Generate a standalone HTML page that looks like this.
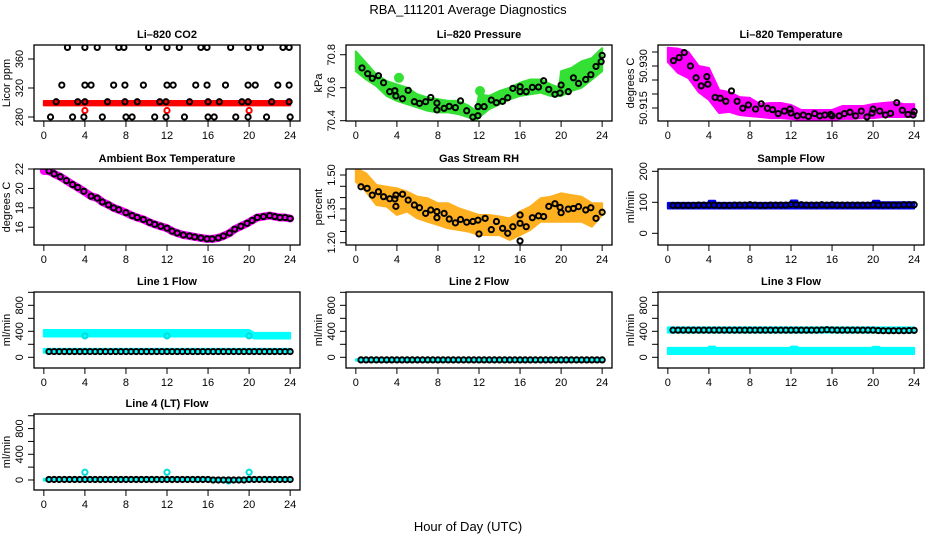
<!DOCTYPE html>
<html><head><meta charset="utf-8"><style>
body{margin:0;background:#fff}
svg{display:block;font-family:"Liberation Sans",sans-serif}
</style></head><body>
<svg id="chart" width="936" height="540" viewBox="0 0 936 540">
<rect width="936" height="540" fill="#fff"/>
<text x="468" y="14" font-size="13" text-anchor="middle">RBA_111201  Average Diagnostics</text>
<text x="468" y="531" font-size="13" text-anchor="middle">Hour of Day (UTC)</text>
</svg>
<script>
// ---------- data ----------
const xTicks = [0,4,8,12,16,20,24];
const halfHours = [0.5,1,1.5,2,2.5,3,3.5,4,4.5,5,5.5,6,6.5,7,7.5,8,8.5,9,9.5,10,10.5,11,11.5,12,12.5,13,13.5,14,14.5,15,15.5,16,16.5,17,17.5,18,18.5,19,19.5,20,20.5,21,21.5,22,22.5,23,23.5,24];

// CO2
const co2H = [2.3,4.0,5.2,7.3,7.8,10.2,12.0,13.2,15.3,15.9,18.2,19.9,21.1,23.3,23.9, 1.75,4.0,4.6,6.8,7.9,9.7,12.0,12.6,14.8,15.9,17.7,19.9,20.6,22.8,23.9, 1.2,3.3,4.0,6.2,7.9,9.1,11.3,11.9,14.2,16.0,17.1,19.3,19.9,22.2,23.9, 0.65,2.8,3.9,5.7,8.0,8.6,10.8,11.9,13.7,16.0,16.6,18.7,19.9,21.7,24.0];
const co2V = [376,376,376,376,376,376,376,376,376,376,376,376,376,376,376, 324,324,324,324,324,324,324,324,324,324,324,324,324,324,324, 301,301,301,301,301,301,301,301,301,301,301,301,301,301,301, 280,280,280,280,280,280,280,280,280,280,280,280,280,280,280];
const co2RedBandH = [0,24];
const co2RedLo = [296,296];
const co2RedHi = [302,302];
const co2RedPtH = [4,12,20];
const co2RedPtV = [289,289,289];

// Pressure
const presH = [0.6,1.15,1.6,2.2,2.7,3.3,3.8,3.9,4.55,5.1,5.7,6.2,6.8,7.3,7.9,7.9,8.6,9.1,9.7,10.2,10.8,11.4,11.9,11.9,12.5,13.2,13.7,14.3,14.8,15.3,16.0,16.0,16.6,17.2,17.8,18.3,18.8,19.4,19.9,20.0,20.7,21.2,21.7,22.4,22.9,23.4,23.9,24.0];
const presV = [70.72,70.685,70.657,70.673,70.63,70.576,70.582,70.55,70.533,70.584,70.515,70.505,70.515,70.541,70.507,70.465,70.475,70.487,70.479,70.52,70.46,70.422,70.43,70.485,70.485,70.525,70.509,70.517,70.539,70.596,70.606,70.576,70.576,70.602,70.604,70.642,70.59,70.56,70.568,70.616,70.576,70.66,70.626,70.65,70.679,70.729,70.758,70.796];
const presBandH = [0,1,2,3,4,5,6,7,8,9,10,11,11.7,12,13,14,15,16,17,18,19,19.8,20,21,22,23,24];
const presLo = [70.70,70.65,70.61,70.55,70.52,70.50,70.48,70.46,70.45,70.45,70.44,70.42,70.40,70.42,70.47,70.50,70.53,70.55,70.56,70.57,70.55,70.55,70.55,70.58,70.60,70.65,70.70];
const presHi = [70.82,70.75,70.68,70.64,70.62,70.60,70.56,70.54,70.53,70.52,70.52,70.49,70.46,70.56,70.55,70.58,70.60,70.63,70.65,70.65,70.62,70.60,70.70,70.72,70.76,70.78,70.84];
const presBlobH = [4.2,12.1];
const presBlobV = [70.66,70.58];

// Li-820 temperature
const tempH = [0.55,1.1,1.6,2.2,2.75,3.25,3.8,3.9,4.6,5.1,5.65,6.2,6.75,7.3,7.85,8.55,9.1,9.7,10.2,10.75,11.35,11.9,12.0,12.6,13.2,13.7,14.3,14.8,15.3,15.85,16.0,16.7,17.2,17.75,18.3,18.85,19.4,19.9,20.0,20.65,21.2,21.7,22.3,22.85,23.4,23.9,24.0];
const tempV = [50.9319,50.933,50.9348,50.930,50.9258,50.9229,50.9262,50.9235,50.9188,50.9185,50.9174,50.9211,50.9174,50.9149,50.9161,50.9146,50.9165,50.9149,50.9144,50.913,50.9139,50.9146,50.9132,50.9122,50.9125,50.912,50.913,50.9122,50.9125,50.9127,50.9122,50.9122,50.913,50.9135,50.9122,50.9139,50.9118,50.9132,50.9146,50.9139,50.9125,50.9131,50.9169,50.9142,50.9127,50.9125,50.9137];
const tempBandH = [0,1,2,3,4,5,6,7,8,9,10,11,12,13,14,15,16,17,18,19,20,21,22,23,24];
const tempLo = [50.9314,50.9275,50.9257,50.9207,50.9179,50.9132,50.9136,50.9125,50.9121,50.9118,50.9114,50.9114,50.9111,50.9107,50.9107,50.9104,50.9107,50.9111,50.9111,50.9114,50.9114,50.9118,50.9118,50.9118,50.9118];
const tempHi = [50.9365,50.9362,50.935,50.930,50.9293,50.9214,50.9207,50.9189,50.9186,50.9164,50.9168,50.9168,50.9161,50.9143,50.9143,50.9143,50.9143,50.9157,50.9157,50.9157,50.9164,50.9168,50.9171,50.9164,50.9164];

// Ambient box temperature
const ambH = [0,0.5,1,1.6,2.2,2.8,3.3,3.9,4.6,5.2,5.7,6.3,6.8,7.3,8,8.6,9.1,9.7,10.3,10.8,11.4,12,12.5,13,13.6,14.2,14.7,15.3,15.9,16.4,17,17.5,18.1,18.6,19.2,19.8,20.3,20.8,21.4,22,22.5,23,23.5,24];
const ambV = [21.8,21.8,21.5,21.2,20.8,20.4,20.1,19.7,19.2,19.0,18.6,18.3,18.0,17.8,17.5,17.2,17.0,16.8,16.5,16.3,16.1,15.9,15.6,15.4,15.2,15.1,15.0,14.9,14.8,14.8,14.9,15.1,15.4,15.8,16.1,16.4,16.7,17.0,17.1,17.2,17.1,17.0,17.0,16.9];

// Gas stream RH
const rhH = [0.5,1.1,1.6,2.2,2.7,3.3,3.8,3.9,3.9,4.55,5.1,5.7,6.2,6.8,7.3,7.9,7.9,8.6,9.1,9.7,10.2,10.8,11.4,11.9,12.0,12.6,13.2,13.7,14.3,14.8,15.3,16.0,16.0,16.0,16.6,17.2,17.8,18.3,18.8,19.4,19.9,20.0,20.7,21.2,21.7,22.4,22.9,23.4,24.0];
const rhV = [1.448,1.441,1.411,1.426,1.404,1.395,1.394,1.361,1.411,1.415,1.389,1.367,1.355,1.330,1.345,1.338,1.311,1.330,1.305,1.288,1.303,1.291,1.294,1.300,1.239,1.308,1.258,1.294,1.264,1.242,1.271,1.323,1.286,1.208,1.271,1.311,1.319,1.316,1.361,1.373,1.357,1.333,1.349,1.352,1.360,1.345,1.355,1.308,1.335];
const rhBandH = [0,1,2,3,4,5,6,7,8,9,10,11,12,13,14,15,16,17,18,19,20,21,22,23,24];
const rhLo = [1.470,1.426,1.367,1.360,1.323,1.338,1.308,1.293,1.279,1.264,1.257,1.249,1.234,1.234,1.234,1.212,1.234,1.257,1.293,1.293,1.293,1.293,1.293,1.271,1.323];
const rhHi = [1.530,1.507,1.456,1.448,1.441,1.426,1.404,1.397,1.375,1.375,1.353,1.338,1.323,1.323,1.316,1.308,1.338,1.360,1.397,1.404,1.419,1.411,1.404,1.375,1.375];

// Sample flow
const sampleBandH = [0,3.9,4.0,4.6,4.7,11.9,12.0,12.6,12.7,19.9,20.0,20.6,20.7,24];
const sampleLo = [80,80,80,80,80,80,80,80,80,80,80,80,80,80];
const sampleHi = [98,98,105,105,98,98,106,106,98,98,105,105,100,100];
const sampleV = [90,90,90,90,90,91,91,91,91,90,90,90,91,91,91,92,91,90,90,91,91,91,91,93,92,92,91,91,91,92,91,92,91,91,91,91,91,91,91,92,91,91,91,91,91,92,92,92];

// Line 1 flow
const l1UpH = [0,20,20.5,24];
const l1UpLo = [320,320,290,290];
const l1UpHi = [420,420,375,375];
const l1LowH = [0,24];
const l1LowLo = [70,70];
const l1LowHi = [130,130];
const l1CyanPtH = [4,12,20];
const l1CyanPtV = [330,330,330];
const l1V = [88,88,88,88,88,88,88,88,88,88,88,88,88,88,88,88,88,88,88,88,88,88,88,88,88,88,88,88,88,88,88,88,88,88,88,88,88,88,88,88,88,88,88,88,88,88,88,88];

// Line 2 flow
const l2BandH = [0,24];
const l2Lo = [-52,-52];
const l2Hi = [-30,-30];
const l2V = [-40,-40,-40,-40,-40,-40,-40,-40,-40,-40,-40,-40,-40,-40,-40,-40,-40,-40,-40,-40,-40,-40,-40,-40,-40,-40,-40,-40,-40,-40,-40,-40,-40,-40,-40,-40,-40,-40,-40,-40,-40,-40,-40,-40,-40,-40,-40,-40];

// Line 3 flow
const l3UpH = [0,24];
const l3UpLo = [380,380];
const l3UpHi = [460,460];
const l3LowH = [0,3.9,4.0,4.6,4.7,11.9,12.0,12.6,12.7,19.9,20.0,20.6,20.7,24];
const l3LowLo = [50,50,50,50,50,50,50,50,50,50,50,50,50,50];
const l3LowHi = [145,145,165,165,145,145,165,165,145,145,160,160,145,145];
const l3V = [418,418,418,418,418,418,418,418,418,418,418,418,418,418,418,418,418,418,418,418,418,418,418,418,418,418,418,418,418,420,425,420,418,418,418,418,418,418,418,418,412,410,410,410,410,410,412,415];

// Line 4 flow
const l4BandH = [0,24];
const l4Lo = [-10,-10];
const l4Hi = [20,20];
const l4CyanPtH = [4,12,20,18];
const l4CyanPtV = [120,120,120,-15];
const l4V = [8,8,8,8,8,8,8,8,8,8,8,8,8,8,8,8,8,8,8,8,8,8,8,8,8,8,8,8,8,8,8,8,0,0,0,0,0,0,0,8,8,8,8,8,8,8,8,8];

// ---------- drawing ----------
const NS = 'http://www.w3.org/2000/svg';
const svg = document.getElementById('chart');
function mk(tag, attrs, parent){
  const e = document.createElementNS(NS, tag);
  for (const k in attrs) e.setAttribute(k, attrs[k]);
  (parent||svg).appendChild(e);
  return e;
}
const colLeft = [34,346,658];
const rowTop = [45,169,292,414];
const boxW = 266, boxH = 76;

function makePanel(col,row,ymin,ymax,title,ytitle,ticks,labels,name){
  const L = colLeft[col], T = rowTop[row];
  const g = mk('g',{});
  
  
  const p = {L,T,g,
    x: h => L + (h + 0.96)/25.92*boxW,
    y: v => T + boxH - (v - ymin)/(ymax - ymin)*boxH};
  const clipId = 'c'+col+row;
  const cp = mk('clipPath',{id:clipId},g);
  mk('rect',{x:L,y:T,width:boxW,height:boxH},cp);
  p.plot = mk('g',{'clip-path':'url(#'+clipId+')'},g);
  
  
  const box = mk('rect',{x:L,y:T,width:boxW,height:boxH,fill:'none',stroke:'#000','stroke-width':1.3},g);
  
  
  const t = mk('text',{x:L+boxW/2,y:T-7,'font-size':11,'font-weight':'bold','text-anchor':'middle'},g);
  t.textContent = title;
  
  
  const xa = mk('g',{},g);
  
  
  mk('line',{x1:p.x(0),x2:p.x(24),y1:T+boxH,y2:T+boxH,stroke:'#000'},xa);
  xTicks.forEach(v=>{
    mk('line',{x1:p.x(v),x2:p.x(v),y1:T+boxH,y2:T+boxH+6,stroke:'#000'},xa);
    const tl = mk('text',{x:p.x(v),y:T+boxH+18,'font-size':11,'text-anchor':'middle'},xa);
    tl.textContent = String(v);
    
    
  });
  const ya = mk('g',{},g);
  
  
  mk('line',{x1:L,x2:L,y1:p.y(ticks[0]),y2:p.y(ticks[ticks.length-1]),stroke:'#000'},ya);
  ticks.forEach(v=>{
    mk('line',{x1:L-6,x2:L,y1:p.y(v),y2:p.y(v),stroke:'#000'},ya);
  });
  labels.forEach(([v,s])=>{
    const yy = p.y(v);
    const tl = mk('text',{x:L-11,y:yy,'font-size':11,'text-anchor':'middle',transform:'rotate(-90 '+(L-11)+' '+yy+')'},ya);
    tl.textContent = s;
    
    
  });
  const yt = mk('text',{x:L-24,y:T+boxH/2,'font-size':11,'text-anchor':'middle',transform:'rotate(-90 '+(L-24)+' '+(T+boxH/2)+')'},ya);
  yt.textContent = ytitle;
  
  
  return p;
}
function band(p,hs,lo,hi,color,name){
  let pts = hs.map((h,i)=>p.x(h)+','+p.y(hi[i]));
  for (let i=hs.length-1;i>=0;i--) pts.push(p.x(hs[i])+','+p.y(lo[i]));
  const e = mk('polygon',{points:pts.join(' '),fill:color,stroke:color,'stroke-width':2,'stroke-linejoin':'round'},p.plot);
  
  
}
function pts(p,hs,vs,color,name,r,sw,fill){
  const g = mk('g',{},p.plot);
  
  
  hs.forEach((h,i)=>{
    const c = mk('circle',{cx:p.x(h),cy:p.y(vs[i]),r:r||2.6,fill:fill||'none',stroke:color,'stroke-width':sw||2},g);
    
    
  });
}
function thick(p,hs,vs,color,w,name){
  const e = mk('polyline',{points:hs.map((h,i)=>p.x(h)+','+p.y(vs[i])).join(' '),fill:'none',stroke:color,'stroke-width':w,'stroke-linejoin':'round','stroke-linecap':'round'},p.plot);
  
  
}

let p = makePanel(0,0,274.5,379.3,'Li\u2013820 CO2','Licor ppm',[280,320,360],[[280,'280'],[320,'320'],[360,'360']],'co2-panel');
band(p,co2RedBandH,co2RedLo,co2RedHi,'#ff0000','co2-red-band');
pts(p,co2RedPtH,co2RedPtV,'#ff0000','co2-red-points');
pts(p,co2H,co2V,'#000','co2-black-points');

p = makePanel(1,0,70.398,70.859,'Li\u2013820 Pressure','kPa',[70.4,70.6,70.8],[[70.4,'70.4'],[70.6,'70.6'],[70.8,'70.8']],'pressure-panel');
band(p,presBandH,presLo,presHi,'#33e033','pressure-green-band');
pts(p,presBlobH,presBlobV,'#33e033','pressure-green-blobs',4,2,'#33e033');
pts(p,presH,presV,'#000','pressure-black-points');

p = makePanel(2,0,50.91036,50.9375,'Li\u2013820 Temperature','degrees C',[50.915,50.92,50.925,50.93,50.935],[[50.93,'50.930'],[50.915,'50.915']],'li820-temp-panel');
band(p,tempBandH,tempLo,tempHi,'#ff00ff','temp-magenta-band');
pts(p,tempH,tempV,'#000','temp-black-points');

p = makePanel(0,1,14.17,22.0,'Ambient Box Temperature','degrees C',[16,18,20,22],[[16,'16'],[18,'18'],[20,'20'],[22,'22']],'ambient-temp-panel');
thick(p,ambH,ambV,'#ff00ff',8,'ambient-magenta-line');
pts(p,ambH.slice(1),ambV.slice(1),'#000','ambient-black-points');

p = makePanel(1,1,1.190,1.5266,'Gas Stream RH','percent',[1.2,1.25,1.3,1.35,1.4,1.45,1.5],[[1.2,'1.20'],[1.35,'1.35'],[1.5,'1.50']],'rh-panel');
band(p,rhBandH,rhLo,rhHi,'#ffb020','rh-orange-band');
pts(p,rhH,rhV,'#000','rh-black-points');

p = makePanel(2,1,-37.7,207.4,'Sample Flow','ml/min',[0,100,200],[[0,'0'],[100,'100'],[200,'200']],'sample-flow-panel');
band(p,sampleBandH,sampleLo,sampleHi,'#0000ee','sample-blue-band');
pts(p,halfHours,sampleV,'#000','sample-black-points');

const flowTicks = [0,200,400,600,800,1000];
const flowLabels = [[0,'0'],[400,'400'],[800,'800']];
p = makePanel(0,2,-164.6,1005,'Line 1 Flow','ml/min',flowTicks,flowLabels,'line1-flow-panel');
band(p,l1UpH,l1UpLo,l1UpHi,'#00ffff','line1-cyan-upper');
band(p,l1LowH,l1LowLo,l1LowHi,'#00ffff','line1-cyan-lower');
pts(p,l1CyanPtH,l1CyanPtV,'#00dddd','line1-cyan-points');
pts(p,halfHours,l1V,'#000','line1-black-points');

p = makePanel(1,2,-164.6,1005,'Line 2 Flow','ml/min',flowTicks,flowLabels,'line2-flow-panel');
band(p,l2BandH,l2Lo,l2Hi,'#00ffff','line2-cyan-band');
pts(p,halfHours,l2V,'#000','line2-black-points');

p = makePanel(2,2,-164.6,1005,'Line 3 Flow','ml/min',flowTicks,flowLabels,'line3-flow-panel');
band(p,l3UpH,l3UpLo,l3UpHi,'#00ffff','line3-cyan-upper');
band(p,l3LowH,l3LowLo,l3LowHi,'#00ffff','line3-cyan-lower');
pts(p,halfHours,l3V,'#000','line3-black-points');

p = makePanel(0,3,-156,1027,'Line 4 (LT) Flow','ml/min',flowTicks,flowLabels,'line4-flow-panel');
band(p,l4BandH,l4Lo,l4Hi,'#00ffff','line4-cyan-band');
pts(p,l4CyanPtH,l4CyanPtV,'#00dddd','line4-cyan-points');
pts(p,halfHours,l4V,'#000','line4-black-points');
</script>
</body></html>
